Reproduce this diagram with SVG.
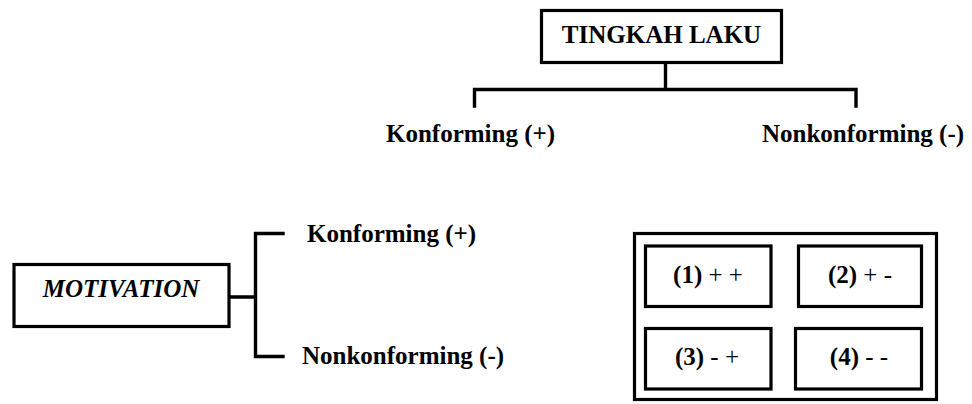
<svg xmlns="http://www.w3.org/2000/svg" width="972" height="404" viewBox="0 0 972 404">
  <style>
    .box { fill: #ffffff; stroke: #000000; stroke-width: 3.2; }
    .wire { fill: none; stroke: #000000; stroke-width: 3.4; stroke-linejoin: miter; stroke-linecap: square; }
    .lbl { font-family: "Liberation Serif", "Times New Roman", serif; font-size: 25px; font-weight: bold; fill: #000000; }
    .ital { font-style: italic; }
    .reg { font-weight: normal; }
  </style>
  <rect width="972" height="404" fill="#ffffff"/>

  <!-- connectors -->
  <g id="connectors">
    <path class="wire" d="M665.5 63 V89.5 M474.5 106 V89.5 H856 V106"/>
    <path class="wire" d="M230 297 H255.5 M283 233.5 H255.5 V356.5 H283"/>
  </g>

  <!-- behaviour root -->
  <g id="tingkah-laku">
    <rect class="box" x="541.5" y="10.5" width="240" height="52"/>
    <text class="lbl" x="661.5" y="43" text-anchor="middle">TINGKAH LAKU</text>
  </g>
  <g id="behaviour-conforming">
    <text class="lbl" x="386" y="142">Konforming (+)</text>
  </g>
  <g id="behaviour-nonconforming">
    <text class="lbl" x="762" y="142">Nonkonforming (-)</text>
  </g>

  <!-- motivation root -->
  <g id="motivation">
    <rect class="box" x="14" y="264.5" width="215" height="62"/>
    <text class="lbl ital" x="121" y="297" text-anchor="middle">MOTIVATION</text>
  </g>
  <g id="motivation-conforming">
    <text class="lbl" x="307" y="242">Konforming (+)</text>
  </g>
  <g id="motivation-nonconforming">
    <text class="lbl" x="302" y="364">Nonkonforming (-)</text>
  </g>

  <!-- combination matrix -->
  <g id="matrix">
    <rect class="box" x="634.5" y="233.5" width="302" height="166"/>
  </g>
  <g id="cell-1">
    <rect class="box" x="645.5" y="246" width="125.5" height="60.5"/>
    <text class="lbl" x="708" y="283" text-anchor="middle">(1)<tspan class="reg"> + +</tspan></text>
  </g>
  <g id="cell-2">
    <rect class="box" x="798.5" y="246" width="123" height="60.5"/>
    <text class="lbl" x="860" y="283" text-anchor="middle">(2)<tspan class="reg"> + -</tspan></text>
  </g>
  <g id="cell-3">
    <rect class="box" x="645.5" y="328.5" width="125.5" height="60.5"/>
    <text class="lbl" x="707" y="365" text-anchor="middle">(3)<tspan class="reg"> - +</tspan></text>
  </g>
  <g id="cell-4">
    <rect class="box" x="795.5" y="328.5" width="126" height="60.5"/>
    <text class="lbl" x="859" y="365" text-anchor="middle">(4)<tspan class="reg"> - -</tspan></text>
  </g>
</svg>
